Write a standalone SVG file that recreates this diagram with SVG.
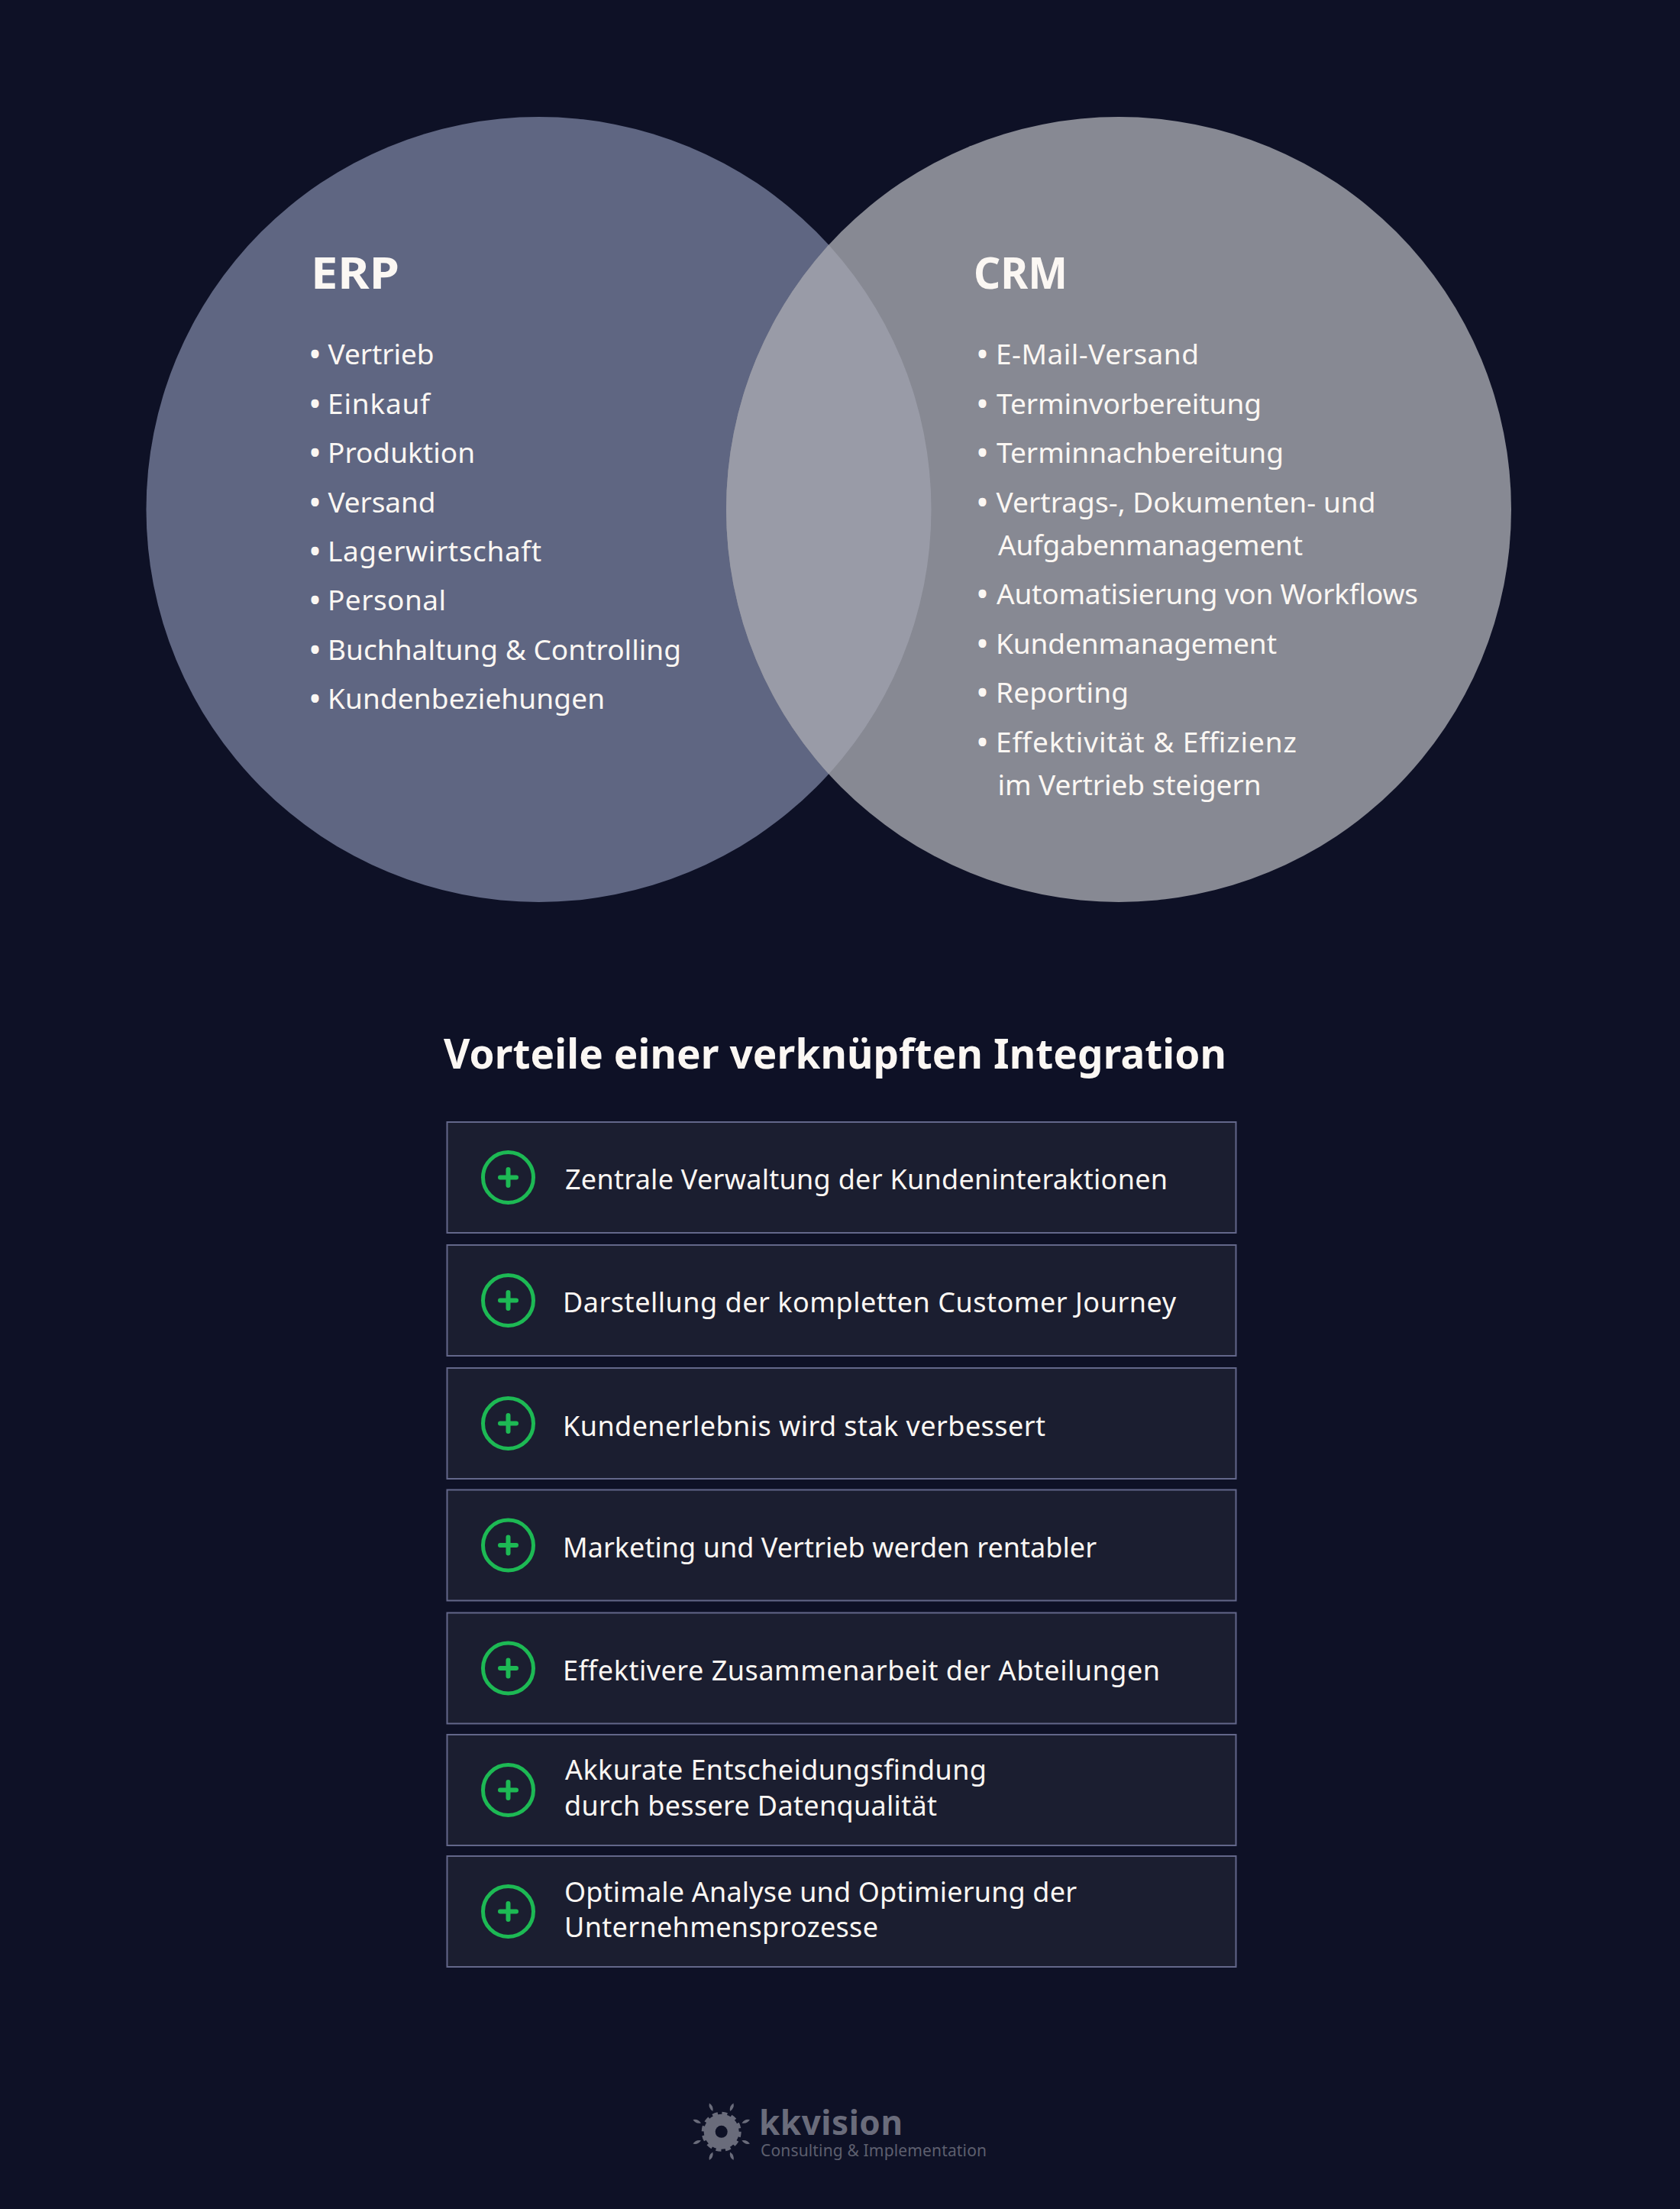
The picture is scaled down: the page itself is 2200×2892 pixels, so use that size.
<svg xmlns="http://www.w3.org/2000/svg" xmlns:xlink="http://www.w3.org/1999/xlink" width="2200" height="2892" viewBox="0 0 2200 2892">
<defs>
<style>
text{font-family:"Noto Sans","Open Sans","Liberation Sans",sans-serif;fill:#fbf7f3}
.h{font-size:58px;font-weight:700}
.li{font-size:37px;font-weight:400}
.b{font-size:45px}
.t{font-size:53px;font-weight:700}
.r{font-size:36px;font-weight:400}
.row{fill:#1b1e30;stroke:#63678a;stroke-width:2}
.ring{fill:none;stroke:#1db954;stroke-width:5}
.plus{fill:none;stroke:#1db954;stroke-width:6;stroke-linecap:round}
.lg{fill:#6a6c7b}
</style>
<clipPath id="clipL"><circle cx="705.5" cy="667" r="514"/></clipPath>
<g id="adv"><circle class="ring" r="33"/><path class="plus" d="M-10.5,0H10.5M0,-10.5V10.5"/></g>
<path id="petal" class="lg" d="M0,-40.5Q4,-35 0,-29Q-4,-35 0,-40.5Z"/>
</defs>
<rect width="2200" height="2892" fill="#0e1126"/>
<g id="venn">
<circle id="circle-erp" cx="705.5" cy="667" r="514" fill="#5f6682"/>
<circle id="circle-crm" cx="1465" cy="667" r="514" fill="#878993"/>
<circle id="overlap" cx="1465" cy="667" r="514" fill="#999ba7" clip-path="url(#clipL)"/>
</g>
<g id="erp">
<text class="h" x="407" y="378" textLength="116" lengthAdjust="spacingAndGlyphs">ERP</text>
<text class="li" y="477"><tspan class="b" x="404" dy="3">•</tspan> <tspan x="429.5" dy="-3" textLength="139">Vertrieb</tspan></text>
<text class="li" y="541.5"><tspan class="b" x="404" dy="3">•</tspan> <tspan x="429" dy="-3" textLength="134">Einkauf</tspan></text>
<text class="li" y="605.5"><tspan class="b" x="404" dy="3">•</tspan> <tspan x="429" dy="-3" textLength="193">Produktion</tspan></text>
<text class="li" y="670.5"><tspan class="b" x="404" dy="3">•</tspan> <tspan x="429.5" dy="-3" textLength="141">Versand</tspan></text>
<text class="li" y="734.5"><tspan class="b" x="404" dy="3">•</tspan> <tspan x="429" dy="-3" textLength="280">Lagerwirtschaft</tspan></text>
<text class="li" y="798.5"><tspan class="b" x="404" dy="3">•</tspan> <tspan x="429" dy="-3" textLength="155">Personal</tspan></text>
<text class="li" y="863.5"><tspan class="b" x="404" dy="3">•</tspan> <tspan x="429" dy="-3" textLength="463">Buchhaltung &amp; Controlling</tspan></text>
<text class="li" y="928"><tspan class="b" x="404" dy="3">•</tspan> <tspan x="429" dy="-3" textLength="363">Kundenbeziehungen</tspan></text>
</g>
<g id="crm">
<text class="h" x="1275" y="378" textLength="123" lengthAdjust="spacingAndGlyphs">CRM</text>
<text class="li" y="476.5"><tspan class="b" x="1278" dy="3">•</tspan> <tspan x="1304" dy="-3" textLength="266">E-Mail-Versand</tspan></text>
<text class="li" y="541.5"><tspan class="b" x="1278" dy="3">•</tspan> <tspan x="1305" dy="-3" textLength="347">Terminvorbereitung</tspan></text>
<text class="li" y="605.5"><tspan class="b" x="1278" dy="3">•</tspan> <tspan x="1305" dy="-3" textLength="376">Terminnachbereitung</tspan></text>
<text class="li" y="670.5"><tspan class="b" x="1278" dy="3">•</tspan> <tspan x="1304.5" dy="-3" textLength="497">Vertrags-, Dokumenten- und</tspan></text>
<text class="li" x="1307" y="726.7" textLength="399">Aufgabenmanagement</text>
<text class="li" y="790.7"><tspan class="b" x="1278" dy="3">•</tspan> <tspan x="1305" dy="-3" textLength="552">Automatisierung von Workflows</tspan></text>
<text class="li" y="855.5"><tspan class="b" x="1278" dy="3">•</tspan> <tspan x="1304" dy="-3" textLength="368">Kundenmanagement</tspan></text>
<text class="li" y="920"><tspan class="b" x="1278" dy="3">•</tspan> <tspan x="1304" dy="-3" textLength="174">Reporting</tspan></text>
<text class="li" y="984.7"><tspan class="b" x="1278" dy="3">•</tspan> <tspan x="1304" dy="-3" textLength="394">Effektivität &amp; Effizienz</tspan></text>
<text class="li" x="1306.5" y="1040.7" textLength="345">im Vertrieb steigern</text>
</g>
<text id="title" class="t" x="581" y="1399" textLength="1025">Vorteile einer verknüpften Integration</text>
<g id="row-1"><rect class="row" x="585.5" y="1469" width="1033" height="145"/><use xlink:href="#adv" href="#adv" x="665.5" y="1541.5"/><text class="r" x="740" y="1557" textLength="789">Zentrale Verwaltung der Kundeninteraktionen</text></g>
<g id="row-2"><rect class="row" x="585.5" y="1630" width="1033" height="145"/><use xlink:href="#adv" href="#adv" x="665.5" y="1702.5"/><text class="r" x="737" y="1717.7" textLength="803">Darstellung der kompletten Customer Journey</text></g>
<g id="row-3"><rect class="row" x="585.5" y="1791" width="1033" height="145"/><use xlink:href="#adv" href="#adv" x="665.5" y="1863.5"/><text class="r" x="737" y="1879.5" textLength="632">Kundenerlebnis wird stak verbessert</text></g>
<g id="row-4"><rect class="row" x="585.5" y="1950.5" width="1033" height="145"/><use xlink:href="#adv" href="#adv" x="665.5" y="2023"/><text class="r" x="737" y="2039" textLength="699">Marketing und Vertrieb werden rentabler</text></g>
<g id="row-5"><rect class="row" x="585.5" y="2111.5" width="1033" height="145"/><use xlink:href="#adv" href="#adv" x="665.5" y="2184"/><text class="r" x="737" y="2200" textLength="782">Effektivere Zusammenarbeit der Abteilungen</text></g>
<g id="row-6"><rect class="row" x="585.5" y="2271" width="1033" height="145"/><use xlink:href="#adv" href="#adv" x="665.5" y="2343.5"/><text class="r" x="740" y="2329.6" textLength="552">Akkurate Entscheidungsfindung</text><text class="r" x="739" y="2376.6" textLength="488">durch bessere Datenqualität</text></g>
<g id="row-7"><rect class="row" x="585.5" y="2430" width="1033" height="145"/><use xlink:href="#adv" href="#adv" x="665.5" y="2502.5"/><text class="r" x="739" y="2490" textLength="671">Optimale Analyse und Optimierung der</text><text class="r" x="739" y="2535.5" textLength="411">Unternehmensprozesse</text></g>
<g id="logo">
<g transform="translate(944.7 2790.8)">
<circle class="lg" r="23"/>
<circle r="24" fill="none" stroke="#6a6c7b" stroke-width="4" stroke-dasharray="7 5.566"/>
<circle r="8" fill="#0e1126"/>
<use xlink:href="#petal" href="#petal" transform="rotate(23)"/>
<use xlink:href="#petal" href="#petal" transform="rotate(67)"/>
<use xlink:href="#petal" href="#petal" transform="rotate(113)"/>
<use xlink:href="#petal" href="#petal" transform="rotate(157)"/>
<use xlink:href="#petal" href="#petal" transform="rotate(-23)"/>
<use xlink:href="#petal" href="#petal" transform="rotate(-67)"/>
<use xlink:href="#petal" href="#petal" transform="rotate(-113)"/>
<use xlink:href="#petal" href="#petal" transform="rotate(-157)"/>
</g>
<text x="994" y="2795" style="font-size:44px;font-weight:700;fill:#6a6c7b" textLength="188">kkvision</text>
<text x="996" y="2823" style="font-size:21px;fill:#5d5f6e" textLength="296">Consulting &amp; Implementation</text>
</g>
</svg>
